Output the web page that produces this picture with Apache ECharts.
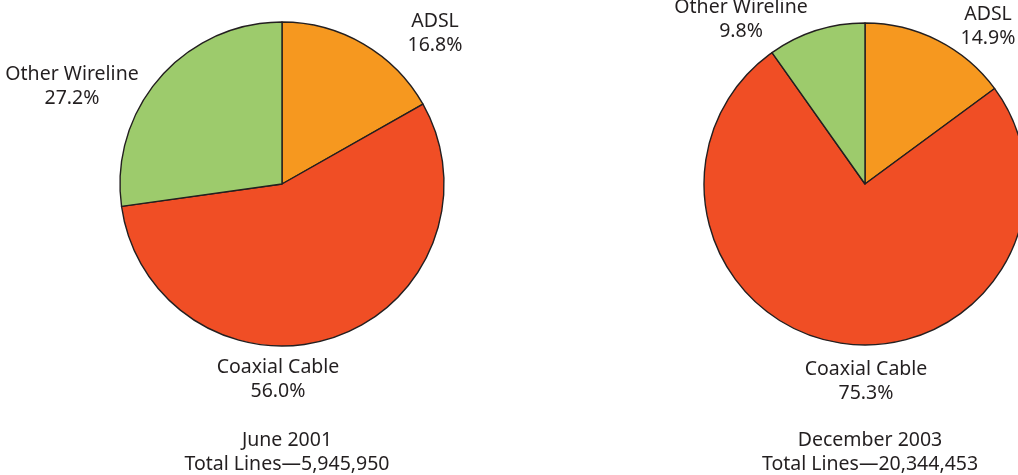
<!DOCTYPE html>
<html>
<head>
<meta charset="utf-8">
<script src="https://cdn.jsdelivr.net/npm/echarts@6/dist/echarts.min.js"></script>
<style>
  html, body { margin: 0; padding: 0; background: #fff; }
  #chart { width: 1018px; height: 475px; }
</style>
</head>
<body>
<div id="chart"></div>
<script>
// Broadband line share by technology, two survey dates
const categories = ['ADSL', 'Coaxial Cable', 'Other Wireline'];
const june2001 = [16.8, 56.0, 27.2];
const dec2003 = [14.9, 75.3, 9.8];
const periodLabels = ['June 2001', 'December 2003'];
const totalLines = ['5,945,950', '20,344,453'];

const colors = ['#F6981F', '#F04E25', '#9DCB6C'];
const ink = '#231F20';
const fontFamily = 'Noto Sans, sans-serif';
const fontSize = 19.5;

// label anchor points (centre of each two-line label), per pie and slice
const labelSpots = [
  [[435, 33], [278, 379], [72, 86]],
  [[988, 26], [866, 381], [741, 19]]
];
const centers = [[282, 184], [865, 184]];
const radii = [162, 161];

function pieSeries(values, idx) {
  return {
    type: 'pie',
    center: centers[idx],
    radius: radii[idx],
    startAngle: 90,
    clockwise: true,
    animation: false,
    silent: true,
    data: categories.map((c, i) => ({
      name: c,
      value: values[i],
      itemStyle: { color: colors[i] }
    })),
    itemStyle: { borderColor: ink, borderWidth: 1.4 },
    label: {
      show: true,
      position: 'outside',
      color: ink,
      fontFamily: fontFamily,
      fontSize: fontSize,
      lineHeight: 24,
      align: 'center',
      overflow: 'none',
      formatter: p => p.name + '\n' + p.value.toFixed(1) + '%'
    },
    labelLine: { show: false },
    labelLayout: p => ({
      x: labelSpots[idx][p.dataIndex][0],
      y: labelSpots[idx][p.dataIndex][1],
      align: 'center',
      verticalAlign: 'middle'
    })
  };
}

const chart = echarts.init(document.getElementById('chart'), null, { renderer: 'canvas' });
chart.setOption({
  backgroundColor: '#fff',
  title: periodLabels.map((p, i) => ({
    text: p + '\nTotal Lines\u2014' + totalLines[i],
    left: [282, 865][i],
    top: 423,
    textAlign: 'center',
    textStyle: {
      color: ink,
      fontFamily: fontFamily,
      fontSize: fontSize,
      fontWeight: 'normal',
      lineHeight: 24,
      align: 'center'
    }
  })),
  series: [pieSeries(june2001, 0), pieSeries(dec2003, 1)]
});
</script>
</body>
</html>
